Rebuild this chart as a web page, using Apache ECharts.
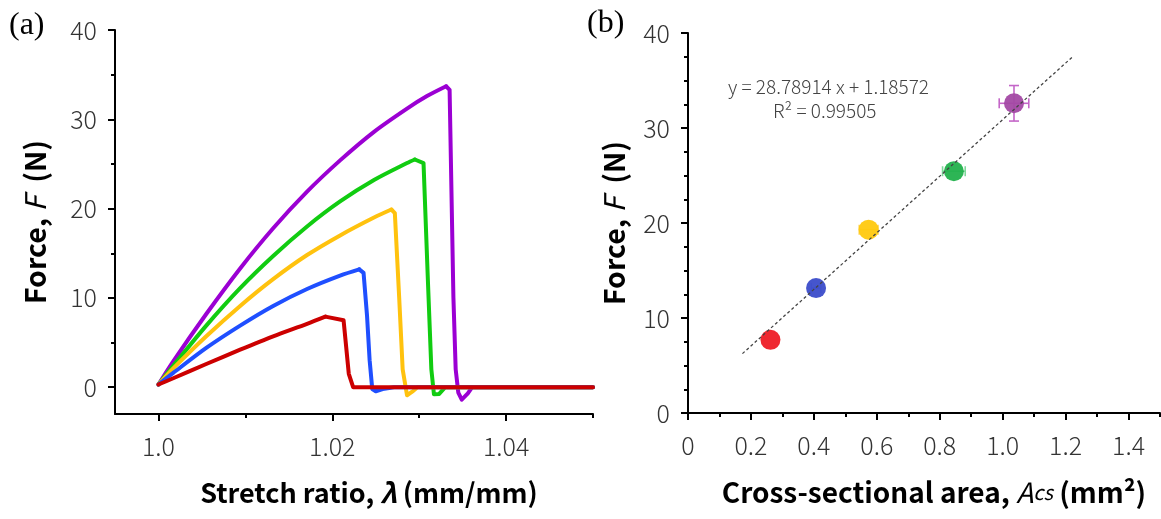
<!DOCTYPE html>
<html><head><meta charset="utf-8">
<script src="https://cdn.jsdelivr.net/npm/echarts@6/dist/echarts.min.js"></script>
<style>html,body{margin:0;padding:0;background:#fff}#c{width:1161px;height:519px}</style>
</head><body><div id="c"></div>
<script>
// ---------- Panel (a): force vs stretch ratio ----------
const purpleLambda = [1.0, 1.0017, 1.0055, 1.0094, 1.0132, 1.0171, 1.0209, 1.0248, 1.0286, 1.0309, 1.0331, 1.0335, 1.03375, 1.03394, 1.0342, 1.0345, 1.0349, 1.0356, 1.0361, 1.05];
const purpleForce  = [0.3, 2.9, 8.2, 13.3, 17.8, 21.9, 25.4, 28.6, 31.2, 32.6, 33.7, 33.3, 20, 10, 2, -0.6, -1.4, -0.7, 0, 0];
const greenLambda  = [1.0, 1.0017, 1.0055, 1.0094, 1.0132, 1.0171, 1.0209, 1.0248, 1.0286, 1.0295, 1.0305, 1.0310, 1.0314, 1.0317, 1.0323, 1.0330, 1.05];
const greenForce   = [0.3, 2.4, 6.9, 11.1, 14.7, 18.0, 20.8, 23.2, 25.1, 25.5, 25.1, 12, 2, -0.8, -0.75, 0, 0];
const yellowLambda = [1.0, 1.0017, 1.0055, 1.0094, 1.0132, 1.0171, 1.0209, 1.0248, 1.0268, 1.0272, 1.0277, 1.0281, 1.0286, 1.0292, 1.0298, 1.05];
const yellowForce  = [0.3, 2.1, 5.7, 9.1, 12.1, 14.8, 17.0, 19.0, 19.9, 19.5, 10, 2, -0.9, -0.5, 0, 0];
const blueLambda   = [1.0, 1.0017, 1.0055, 1.0094, 1.0132, 1.0171, 1.0209, 1.0231, 1.0236, 1.0240, 1.0243, 1.0246, 1.0250, 1.0258, 1.0271, 1.05];
const blueForce    = [0.3, 1.6, 4.4, 6.9, 9.1, 11.0, 12.5, 13.2, 12.8, 8, 3, -0.2, -0.45, -0.2, 0, 0];
const redLambda    = [1.0, 1.0017, 1.0055, 1.0094, 1.0132, 1.0171, 1.0192, 1.0213, 1.0216, 1.0219, 1.0224, 1.05];
const redForce     = [0.3, 1.0, 2.6, 4.2, 5.7, 7.1, 7.9, 7.5, 4.5, 1.5, 0.0, 0.0];
const peakIndex    = [10, 9, 8, 7, 6];   // purple, green, yellow, blue, red: last point of the rising part
const lambdaTickLabels = [1.0, 1.02, 1.04];
const lambdaMinorTicks = [1.01, 1.03, 1.05];
const forceTickLabelsA = [0, 10, 20, 30, 40];
const forceMinorTicksA = [5, 15, 25, 35];

// ---------- Panel (b): force vs cross-sectional area ----------
const areaValues   = [0.262, 0.407, 0.574, 0.845, 1.036];
const areaForce    = [7.7, 13.15, 19.3, 25.45, 32.6];
const areaErr      = [0.0, 0.015, 0.03, 0.036, 0.047];
const areaForceErr = [0.0, 0.0, 0.0, 0.0, 1.87];
const fitArea      = [0.173, 1.224];
const fitForce     = [6.25, 37.55];
const areaTickLabels = [0, 0.2, 0.4, 0.6, 0.8, 1.0, 1.2, 1.4];
const areaMinorTicks = [0.1, 0.3, 0.5, 0.7, 0.9, 1.1, 1.3, 1.5];
const fitEquation = 'y = 28.78914 x + 1.18572';
const fitR2 = 'R² = 0.99505';

const curveColors = ['#9b00d3', '#11cc11', '#ffc20e', '#1f4fff', '#cc0000'];
const dotColors   = ['#ee1c25', '#3b4cca', '#ffc90e', '#22b14c', '#a349a4'];
const errColors   = ['#f08080', '#8f9ae0', '#ffd866', '#7fd89a', '#c466c8'];

const FONT = '"Noto Sans CJK JP", "Noto Sans", sans-serif';
const zip = (a, b) => a.map((v, i) => [v, b[i]]);

const chart = echarts.init(document.getElementById('c'), null, {renderer: 'canvas'});

const axisLineStyle = {color: '#000', width: 2};
const labelStyle = {fontFamily: FONT, fontSize: 25, fontWeight: 300, color: '#333'};
const richFor = (size) => ({
  b: {fontFamily: FONT, fontSize: size, fontWeight: 'bold', color: '#000'},
  i: {fontFamily: FONT, fontSize: size, fontWeight: 'bold', fontStyle: 'italic', color: '#000'},
  n: {fontFamily: FONT, fontSize: size, fontWeight: 'normal', fontStyle: 'italic', color: '#000'},
  s: {fontFamily: FONT, fontSize: Math.round(size * 0.72), fontWeight: 'normal', fontStyle: 'italic', color: '#000'}
});

const curveSets = [
  [purpleLambda, purpleForce], [greenLambda, greenForce], [yellowLambda, yellowForce],
  [blueLambda, blueForce], [redLambda, redForce]
];
const curves = [];
curveSets.forEach((c, i) => {
  const pts = zip(c[0], c[1]);
  const p = peakIndex[i];
  const ls = {color: curveColors[i], width: 4, cap: 'round', join: 'round'};
  curves.push({type: 'line', xAxisIndex: 0, yAxisIndex: 0, data: pts.slice(0, p + 1),
    showSymbol: false, smooth: 0.3, silent: true, lineStyle: ls, z: 2 + i * 2});
  curves.push({type: 'line', xAxisIndex: 0, yAxisIndex: 0, data: pts.slice(p),
    showSymbol: false, smooth: false, silent: true, lineStyle: ls, z: 3 + i * 2});
});

const errData = areaValues.map((x, i) => [x, areaForce[i], areaErr[i], areaForceErr[i], i]);
const hiddenLine = {show: false, onZero: false};

const option = {
  animation: false,
  backgroundColor: '#fff',
  grid: [
    {left: 115, top: 30, width: 478, height: 384},
    {left: 688, top: 33, width: 472, height: 380}
  ],
  xAxis: [
    {gridIndex: 0, type: 'value', min: 0.995, max: 1.05, position: 'bottom',
     axisLine: {show: true, onZero: false, lineStyle: axisLineStyle},
     axisTick: {show: true, length: 7, customValues: lambdaTickLabels, lineStyle: axisLineStyle},
     axisLabel: {customValues: lambdaTickLabels, margin: 20, ...labelStyle,
       formatter: v => (Math.abs(v - 1) < 1e-9 ? '1.0' : String(+v.toFixed(2)))},
     splitLine: {show: false},
     name: '{b|Stretch ratio, }{i|λ}{b| (mm/mm)}', nameLocation: 'middle', nameGap: 65,
     nameTextStyle: {rich: richFor(27), padding: [0, 0, 0, 30]}},
    {gridIndex: 0, type: 'value', min: 0.995, max: 1.05, position: 'bottom', offset: 0,
     axisLine: hiddenLine,
     axisTick: {show: true, length: 4, customValues: lambdaMinorTicks, lineStyle: axisLineStyle},
     axisLabel: {show: false}, splitLine: {show: false}},
    {gridIndex: 1, type: 'value', min: 0, max: 1.5, position: 'bottom',
     axisLine: {show: true, onZero: false, lineStyle: axisLineStyle},
     axisTick: {show: true, length: 7, customValues: areaTickLabels, lineStyle: axisLineStyle},
     axisLabel: {customValues: areaTickLabels, margin: 20, ...labelStyle,
       formatter: v => (v === 0 ? '0' : v.toFixed(1))},
     splitLine: {show: false},
     name: '{b|Cross-sectional area, }{n|A}{s|cs}{b| (mm²)}', nameLocation: 'middle', nameGap: 65,
     nameTextStyle: {rich: richFor(28), padding: [0, 0, 0, 20]}},
    {gridIndex: 1, type: 'value', min: 0, max: 1.5, position: 'bottom', offset: 0,
     axisLine: hiddenLine,
     axisTick: {show: true, length: 4, customValues: areaMinorTicks, lineStyle: axisLineStyle},
     axisLabel: {show: false}, splitLine: {show: false}}
  ],
  yAxis: [
    {gridIndex: 0, type: 'value', min: -3, max: 40, position: 'left',
     axisLine: {show: true, onZero: false, lineStyle: axisLineStyle},
     axisTick: {show: true, length: 7, customValues: forceTickLabelsA, lineStyle: axisLineStyle},
     axisLabel: {customValues: forceTickLabelsA, margin: 18, ...labelStyle},
     splitLine: {show: false},
     name: '{b|Force, }{n|F}{b|  (N)}', nameLocation: 'middle', nameGap: 66,
     nameTextStyle: {rich: richFor(28.5)}},
    {gridIndex: 0, type: 'value', min: -3, max: 40, position: 'left', offset: 0,
     axisLine: hiddenLine,
     axisTick: {show: true, length: 4, customValues: forceMinorTicksA, lineStyle: axisLineStyle},
     axisLabel: {show: false}, splitLine: {show: false}},
    {gridIndex: 1, type: 'value', min: 0, max: 40, interval: 10, position: 'left',
     axisLine: {show: true, onZero: false, lineStyle: axisLineStyle},
     axisTick: {show: true, length: 7, lineStyle: axisLineStyle},
     minorTick: {show: true, splitNumber: 4, length: 4, lineStyle: {color: '#000', width: 2}},
     axisLabel: {margin: 18, ...labelStyle},
     splitLine: {show: false}, minorSplitLine: {show: false},
     name: '{b|Force, }{n|F}{b|  (N)}', nameLocation: 'middle', nameGap: 60,
     nameTextStyle: {rich: richFor(28.5)}}
  ],
  series: [
    ...curves,
    {type: 'custom', xAxisIndex: 2, yAxisIndex: 2, data: errData, z: 3, silent: true,
     renderItem: (params, api) => {
       const x = api.value(0), y = api.value(1), ex = api.value(2), ey = api.value(3), idx = api.value(4);
       const col = errColors[idx];
       const st = {stroke: col, lineWidth: 1.6};
       const ch = [];
       if (ey > 0) {
         const t = api.coord([x, y + ey]), b = api.coord([x, y - ey]);
         ch.push({type: 'line', shape: {x1: t[0], y1: t[1], x2: b[0], y2: b[1]}, style: st});
         ch.push({type: 'line', shape: {x1: t[0] - 5, y1: t[1], x2: t[0] + 5, y2: t[1]}, style: st});
         ch.push({type: 'line', shape: {x1: b[0] - 5, y1: b[1], x2: b[0] + 5, y2: b[1]}, style: st});
       }
       if (ex > 0) {
         const l = api.coord([x - ex, y]), r = api.coord([x + ex, y]);
         ch.push({type: 'line', shape: {x1: l[0], y1: l[1], x2: r[0], y2: r[1]}, style: st});
         ch.push({type: 'line', shape: {x1: l[0], y1: l[1] - 5, x2: l[0], y2: l[1] + 5}, style: st});
         ch.push({type: 'line', shape: {x1: r[0], y1: r[1] - 5, x2: r[0], y2: r[1] + 5}, style: st});
       }
       return {type: 'group', children: ch};
     }},
    {type: 'scatter', xAxisIndex: 2, yAxisIndex: 2, symbolSize: 20, z: 4, silent: true,
     data: areaValues.map((x, i) => ({value: [x, areaForce[i]], itemStyle: {color: dotColors[i], opacity: 0.95}}))},
    {type: 'line', xAxisIndex: 2, yAxisIndex: 2, data: zip(fitArea, fitForce),
     showSymbol: false, silent: true, z: 5,
     lineStyle: {color: '#444', width: 1.3, type: [3, 2.5]}}
  ],
  graphic: [
    {type: 'text', left: 9, top: 10, style: {text: '(a)', font: '32px "Liberation Serif", serif', fill: '#000'}},
    {type: 'text', left: 587, top: 8, style: {text: '(b)', font: '32px "Liberation Serif", serif', fill: '#000'}},
    {type: 'text', left: 728, top: 77, style: {text: fitEquation, font: '300 19px ' + FONT, fill: '#444'}},
    {type: 'text', left: 773, top: 101, style: {text: fitR2, font: '300 19px ' + FONT, fill: '#444'}}
  ]
};
chart.setOption(option);
</script>
</body></html>
